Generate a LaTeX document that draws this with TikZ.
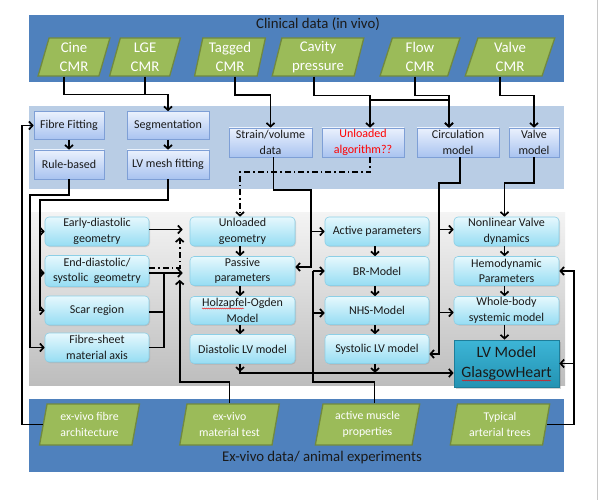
\documentclass[tikz,border=0pt]{standalone}
\usepackage{fontspec}
\setmainfont{Carlito}
\usetikzlibrary{arrows.meta,shapes.geometric,shadows,decorations.pathmorphing,calc}

\definecolor{darkband}{HTML}{4F81BD}
\definecolor{lightband}{HTML}{B9CDE5}
\definecolor{paragreen}{HTML}{9BBB59}
\definecolor{paraborder}{HTML}{71893F}
\definecolor{bluetop}{HTML}{EAF1FD}
\definecolor{bluebot}{HTML}{A9C3F0}
\definecolor{blueborder}{HTML}{7E9FD6}
\definecolor{cyantop}{HTML}{E6F8FD}
\definecolor{cyanbot}{HTML}{96DDF3}
\definecolor{cyanborder}{HTML}{8CCFE6}
\definecolor{lvtop}{HTML}{3DB5D6}
\definecolor{lvbot}{HTML}{2393B3}
\definecolor{lvborder}{HTML}{1E7E9A}
\definecolor{graytop}{HTML}{F4F4F4}
\definecolor{graybot}{HTML}{BDBDBD}
\definecolor{textdark}{HTML}{1A1A1A}
\definecolor{framegray}{HTML}{C8C8C8}

\begin{document}
\begin{tikzpicture}[x=1pt,y=-1pt,
  conn/.style={line width=1.7pt, draw=black},
  arr/.style={conn, -{Straight Barb[length=3.6pt,width=8pt]}},
  dd/.style={conn, dash pattern=on 6pt off 3pt on 1.5pt off 3pt},
  para/.style={trapezium, trapezium left angle=78, trapezium right angle=102,
    trapezium stretches=true, fill=paragreen, draw=paraborder, line width=1.3pt,
    text=white, align=center, inner sep=0.5pt},
  toppara/.style={para, minimum height=38pt, font=\fontsize{14.8}{19.5}\selectfont},
  botpara/.style={para, minimum height=41pt, minimum width=100pt, font=\fontsize{11.8}{15.5}\selectfont},
  bluebox/.style={rectangle, top color=bluetop, bottom color=bluebot, draw=blueborder,
    line width=0.6pt, align=center, text=textdark, font=\fontsize{12}{15.5}\selectfont,
    inner sep=0.5pt, minimum height=28pt,
    drop shadow={opacity=0.25, shadow xshift=1pt, shadow yshift=-1pt}},
  cyanbox/.style={rectangle, rounded corners=4pt, top color=cyantop, bottom color=cyanbot,
    draw=cyanborder, line width=0.6pt, align=center, text=textdark,
    font=\fontsize{12}{15.5}\selectfont, inner sep=0.5pt, minimum height=29pt,
    minimum width=104pt,
    drop shadow={opacity=0.25, shadow xshift=1pt, shadow yshift=-1pt}},
  lvbox/.style={rectangle, top color=lvtop, bottom color=lvbot, draw=lvborder,
    line width=0.8pt, align=center, text=textdark, font=\fontsize{15.8}{20}\selectfont,
    inner sep=0.5pt, minimum height=47pt, minimum width=105pt,
    drop shadow={opacity=0.35, shadow xshift=1.5pt, shadow yshift=-1.5pt}},
  bandtitle/.style={text=textdark, font=\fontsize{14.8}{17}\selectfont, inner sep=0pt},
  squiggle/.style={draw=red, line width=0.4pt, decorate,
    decoration={snake, amplitude=0.5pt, segment length=2pt}},
]
\useasboundingbox (0,0) rectangle (600,500);
\fill[white] (0,0) rectangle (600,500);
\draw[framegray, line width=1pt] (597,0) -- (597,500);

% ---------------- bands ----------------
\fill[darkband] (29,15) rectangle (564,82);
\fill[lightband] (29,106) rectangle (564,189);
\fill[top color=graytop, bottom color=graybot] (29,212) rectangle (565,385);
\fill[darkband] (29,399) rectangle (564,472);

\node[bandtitle] (cltitle) at (318,24) {Clinical data (in vivo)};
\node[bandtitle] (extitle) at (322,458) {Ex-vivo data/ animal experiments};

% ---------------- top data ----------------
\node[toppara, minimum width=72pt] (cine) at (74,57) {Cine\\CMR};
\node[toppara, minimum width=71pt] (lge) at (145,57) {LGE\\CMR};
\node[toppara, minimum width=71pt] (tagged) at (230,57) {Tagged\\CMR};
\node[toppara, minimum width=92pt] (cavity) at (318,57) {Cavity\\pressure};
\node[toppara, minimum width=80pt] (flow) at (420,57) {Flow\\CMR};
\node[toppara, minimum width=90pt] (valvecmr) at (510,57) {Valve\\CMR};

% ---------------- second band ----------------
\node[bluebox, minimum width=70pt] (fibfit) at (69,125.5) {Fibre Fitting};
\node[bluebox, minimum width=70pt, minimum height=29pt] (rule) at (69,164.5) {Rule-based};
\node[bluebox, minimum width=82pt] (seg) at (168,125.5) {Segmentation};
\node[bluebox, minimum width=82pt, minimum height=29pt] (mesh) at (168,164.5) {LV mesh fitting};
\node[bluebox, minimum width=83pt, minimum height=29pt] (strain) at (270.5,142.5) {Strain/volume\\data};
\node[bluebox, minimum width=82pt, minimum height=29pt, text=red] (unalg) at (363,142.5) {Unloaded\\algorithm??};
\node[bluebox, minimum width=82pt, minimum height=29pt] (circ) at (458,142.5) {Circulation\\model};
\node[bluebox, minimum width=50pt, minimum height=29pt] (valvem) at (534,142.5) {Valve\\model};

% ---------------- third band ----------------
\node[cyanbox] (early) at (97,231.5) {Early-diastolic\\geometry};
\node[cyanbox, minimum height=31pt] (enddia) at (97,271) {End-diastolic/\\systolic~ geometry};
\node[cyanbox] (scar) at (97,310.5) {Scar region};
\node[cyanbox] (fibsheet) at (97,347.5) {Fibre-sheet\\material axis};

\node[cyanbox, minimum width=105pt] (unlgeo) at (242.5,231.5) {Unloaded\\geometry};
\node[cyanbox, minimum width=105pt] (passive) at (242.5,271) {Passive\\parameters};
\node[cyanbox, minimum width=105pt, minimum height=28pt] (holz) at (242.5,310.5) {Holzapfel-Ogden\\Model};
\node[cyanbox, minimum width=105pt] (dias) at (242.5,349) {Diastolic LV model};

\node[cyanbox] (active) at (377,231.5) {Active parameters};
\node[cyanbox] (br) at (377,271) {BR-Model};
\node[cyanbox, minimum height=28pt] (nhs) at (377,310.5) {NHS-Model};
\node[cyanbox] (sys) at (377,349) {Systolic LV model};

\node[cyanbox, minimum width=105pt] (nlv) at (506.5,231.5) {Nonlinear Valve\\dynamics};
\node[cyanbox, minimum width=105pt] (hemo) at (506.5,271) {Hemodynamic\\Parameters};
\node[cyanbox, minimum width=105pt, minimum height=28pt] (whole) at (506.5,310.5) {Whole-body\\systemic model};
\node[lvbox] (lv) at (506.5,363.5) {LV Model\\GlasgowHeart};

% spelling marks
\draw[squiggle] (202,308.5) -- (244,308.5);
\draw[squiggle] (462,380.5) -- (551,380.5);

% ---------------- bottom data ----------------
\node[botpara] (exfib) at (89.5,424.5) {ex-vivo fibre\\architecture};
\node[botpara] (mattest) at (229.5,424.5) {ex-vivo\\material test};
\node[botpara, minimum width=105pt] (muscle) at (367.5,424.5) {active muscle\\properties};
\node[botpara] (typical) at (500,424.5) {Typical\\arterial trees};

% ---------------- connectors: top ----------------
\draw[arr] ([xshift=-10pt]cine.south) -- ++(0,18) -| (seg.north);
\draw[conn] (lge.south) -- ++(0,18);
\draw[arr] ([xshift=5pt]tagged.south) -- ++(0,18) -| (strain.north);
\draw[arr] ([xshift=-4pt]cavity.south) -- ++(0,19) -| ([xshift=7pt]unalg.north);
\coordinate (cavsplit) at (370,100);
\draw[arr] (cavsplit) -| ([xshift=-9pt]circ.north);
\draw[arr] ([xshift=-5pt]flow.south) -- ++(0,19) -| ([xshift=-9pt]circ.north);
\draw[arr] ([xshift=-10pt]valvecmr.south) -- ++(0,19) -| (valvem.north);

% ---------------- connectors: second band ----------------
\draw[arr] (fibfit.south) -- (rule.north);
\draw[arr] (seg.south) -- (mesh.north);
\draw[arr] (rule.south) -- ++(0,16) -| ([xshift=-15pt]fibsheet.west) -- (fibsheet.west);
\draw[conn] (mesh.south) -- ++(0,21) -| ([xshift=-5pt]scar.west);
\draw[arr] ([xshift=-5pt]early.west) -- (early.west);
\draw[arr] ([xshift=-5pt,yshift=-2pt]enddia.west) -- ([yshift=-2pt]enddia.west);
\draw[arr] ([xshift=-5pt]scar.west) -- (scar.west);
\draw[arr] (exfib.west) -| ([xshift=-12pt]fibfit.west) -- (fibfit.west);

\draw[arr] ([xshift=3pt]strain.south) -- ++(0,33) -| ([xshift=16pt,yshift=4pt]passive.east) -- ([yshift=4pt]passive.east);
\draw[arr] ([xshift=-14pt]active.west) -- (active.west);
\draw[dd, -{Straight Barb[length=3.6pt,width=8pt]}] ([xshift=7pt]unalg.south) -- ++(0,15) -| ([xshift=-2.5pt]unlgeo.north);

\draw[arr] ([xshift=2pt]circ.south) -- ++(0,26) -| ([xshift=10pt,yshift=-5pt]sys.east) -- ([yshift=-5pt]sys.east);
\draw[arr] ([xshift=-15pt,yshift=2pt]nlv.west) -- ([yshift=2pt]nlv.west);
\draw[arr] ([xshift=-15pt,yshift=-2pt]whole.west) -- ([yshift=-2pt]whole.west);
\draw[arr] (valvem.south) -- ++(0,26) -| ([xshift=-2pt]nlv.north);

% ---------------- connectors: third band ----------------
\draw[arr] ([yshift=2pt]early.east) -- ([xshift=-7pt,yshift=2pt]unlgeo.west);
\draw[arr] ([yshift=-2pt]enddia.east) -- ([xshift=-7pt,yshift=-2pt]passive.west);
\draw[dd, -{Straight Barb[length=3.6pt,width=8pt]}] ([yshift=3pt]enddia.east) -| ([xshift=-10pt,yshift=9pt]unlgeo.south west);
\draw[conn] ([yshift=-1.5pt]scar.east) -- ++(15,0);
\draw[conn] (fibsheet.east) -| ([xshift=15pt,yshift=-2pt]enddia.east);

\draw[arr] ([xshift=-2.5pt]unlgeo.south) -- ([xshift=-2.5pt]passive.north);
\draw[arr] ([xshift=-2.5pt]passive.south) -- ([xshift=-2.5pt]holz.north);
\draw[arr] ([xshift=-2.5pt]holz.south) -- ([xshift=-2.5pt]dias.north);
\draw[arr] ([xshift=-2.5pt]dias.south) -- ++(0,8);
\draw[arr] ([xshift=-2.5pt]dias.south) |- ([yshift=-9.5pt]lv.west);

\draw[arr] ([xshift=-2pt]active.south) -- ([xshift=-2pt]br.north);
\draw[arr] ([xshift=-2pt]br.south) -- ([xshift=-2pt]nhs.north);
\draw[arr] ([xshift=-2pt]nhs.south) -- ([xshift=-2pt]sys.north);
\draw[arr] ([xshift=-2pt]sys.south) -- ++(0,9);

\draw[arr] ([xshift=-2pt]nlv.south) -- ([xshift=-2pt]hemo.north);
\draw[arr] ([xshift=-2pt]hemo.south) -- ([xshift=-2pt]whole.north);
\draw[arr] ([xshift=-2pt]whole.south) -- ([xshift=-2pt]lv.north);

% ---------------- connectors: bottom ----------------
\draw[arr] (mattest.north) -- ++(0,-21) -| ([xshift=-10pt,yshift=6pt]passive.south west);
\draw[conn] ([xshift=7pt]muscle.north) -- ++(0,-21) -| ([xshift=-12pt]br.west);
\draw[arr] ([xshift=-12pt]br.west) -- (br.west);
\draw[arr] ([xshift=-12pt,yshift=-2.5pt]nhs.west) -- ([yshift=-2.5pt]nhs.west);
\draw[arr] (typical.east) -| ([xshift=15pt]hemo.east) -- (hemo.east);
\draw[arr] ([xshift=15pt]lv.east) -- (lv.east);
\end{tikzpicture}
\end{document}
